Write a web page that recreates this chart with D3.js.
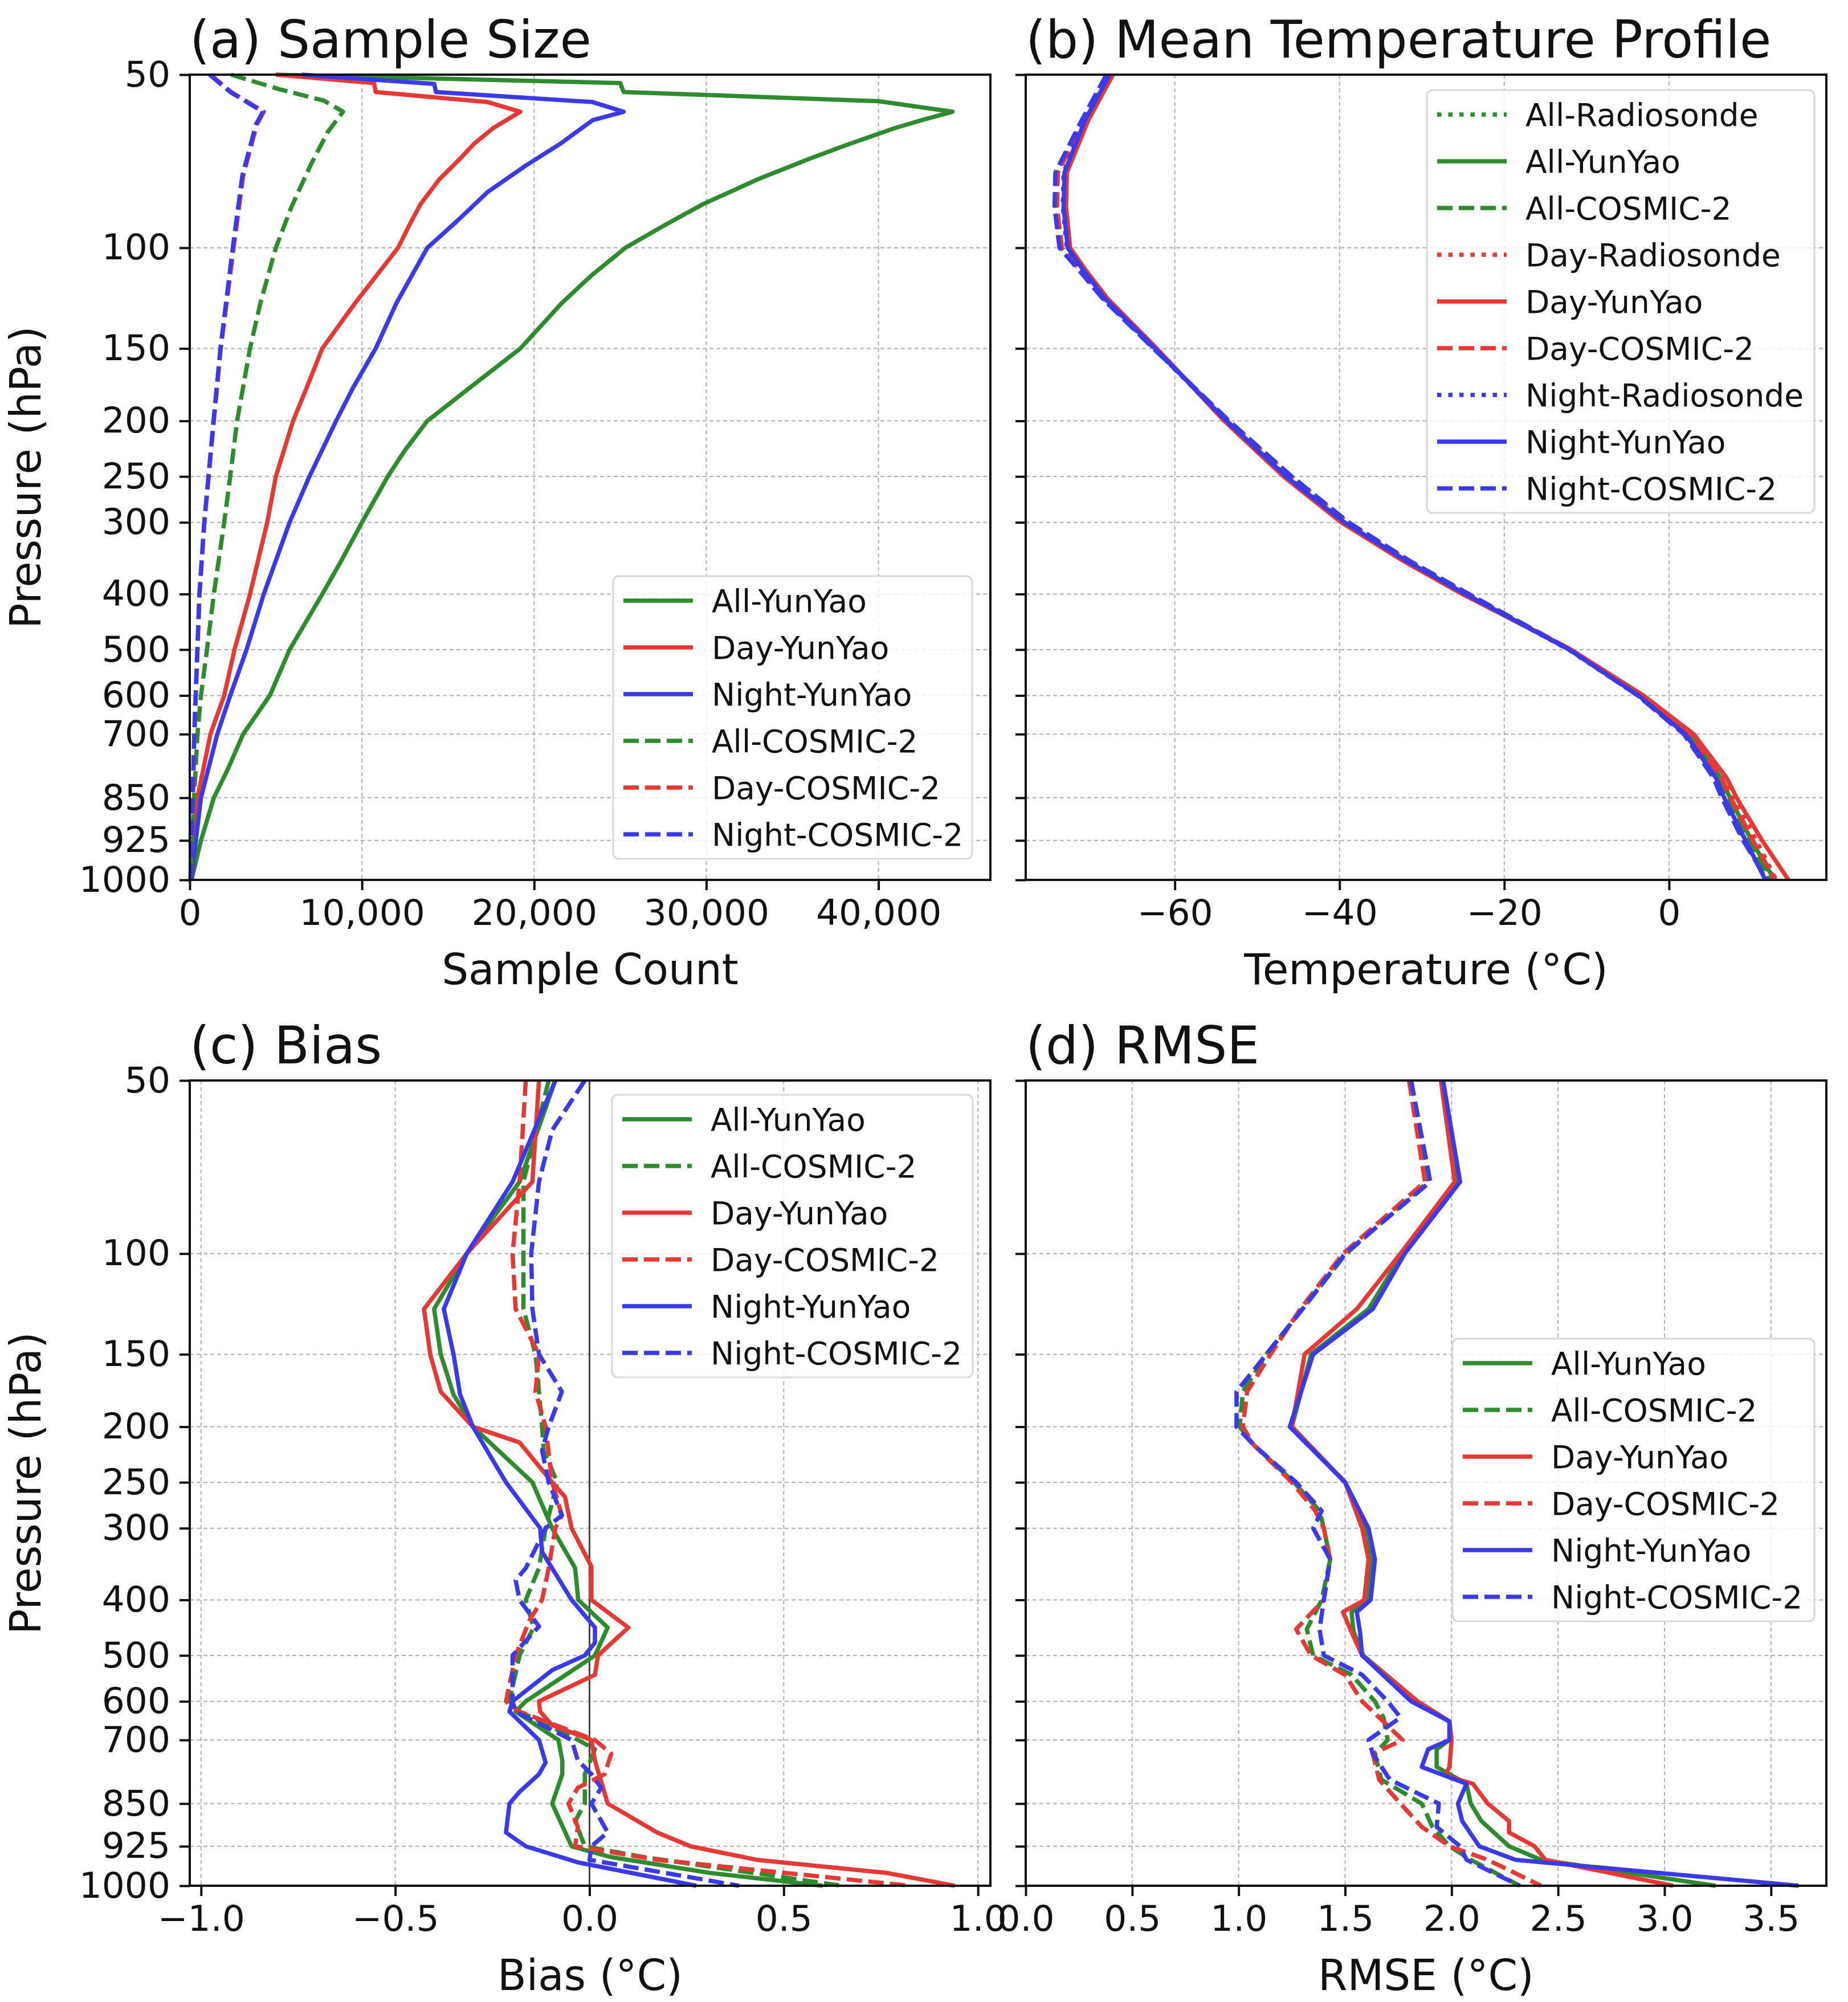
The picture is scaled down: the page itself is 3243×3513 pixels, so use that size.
<!DOCTYPE html>
<html>
<head>
<meta charset="utf-8">
<script src="https://cdn.jsdelivr.net/npm/d3@7"></script>
<style>
  body { margin: 0; background: #fff; }
  text { font-family: "DejaVu Sans", sans-serif; fill: #111; }
</style>
</head>
<body>
<svg id="fig" width="3243" height="3513"></svg>
<script>
// pressure ticks and their relative position on the (stretched) vertical axis
const pTicks = [50, 100, 150, 200, 250, 300, 400, 500, 600, 700, 850, 925, 1000];
const pFrac = [0, 0.215, 0.340, 0.430, 0.499, 0.556, 0.645, 0.714, 0.771, 0.819, 0.898, 0.951, 1];

const green = "#2e8b2e", red = "#e53935", blue = "#3a3ae8";

// (a) sample size: [pressure, count]
const sizeAllYunYao = [[50,5000],[51.7,25000],[53.6,25200],[55.6,40000],[58,44300],[60,42500],[62,40900],[66,38300],[70,36000],[76,33000],[84,29800],[92,27400],[100,25300],[112,23300],[125,21600],[150,19200],[175,16300],[200,13800],[225,12500],[250,11500],[300,10000],[350,8800],[400,7700],[500,5800],[600,4650],[700,3100],[780,2200],[850,1400],[925,650],[1000,100]];
const sizeDayYunYao = [[50,5000],[51.7,10700],[53.6,10800],[55.8,17300],[58,19200],[62,17600],[66,16500],[70,15700],[76,14500],[84,13400],[92,12700],[100,12100],[125,9600],[150,7700],[175,6800],[200,6000],[250,5000],[300,4500],[400,3500],[500,2600],[600,2000],[700,1200],[850,450],[1000,50]];
const sizeNightYunYao = [[50,6500],[51.9,14200],[53.6,14300],[55.8,23400],[58,25200],[60,23400],[66,21500],[72,19500],[80,17300],[90,15500],[100,13800],[125,12000],[150,10800],[175,9500],[200,8500],[250,6950],[300,5800],[400,4300],[500,3300],[600,2350],[700,1600],[850,650],[1000,80]];
const sizeAllCosmic = [[50,2400],[53,5200],[55.5,7800],[58,8900],[63,8000],[72,7000],[85,5900],[100,5000],[125,4100],[150,3500],[200,2750],[250,2350],[300,2000],[400,1400],[500,1000],[600,650],[700,450],[850,250],[1000,50]];
const sizeDayCosmic = [[50,1200],[53.6,2400],[58,4300],[61,3900],[75,3100],[100,2550],[150,1800],[200,1400],[300,850],[400,570],[500,450],[700,270],[850,180],[1000,50]];
const sizeNightCosmic = [[50,1150],[53.6,2350],[58,4250],[61,3850],[75,3050],[100,2500],[150,1780],[200,1380],[300,840],[400,560],[500,440],[700,260],[850,170],[1000,40]];

// (b) mean temperature profile
const tempP = [50, 60, 74, 85, 100, 110, 123, 150, 200, 250, 300, 350, 400, 500, 600, 700, 800, 850, 925, 1000];
const tempAllRaob = [-67.9,-70.8,-73.4,-73.5,-73.0,-71.0,-68.4,-62.4,-53.8,-46.5,-39.4,-32.0,-24.8,-12.1,-3.5,2.4,6.2,7.3,9.9,12.6];
const tempAllYunYao = [-67.8,-70.7,-73.3,-73.4,-72.9,-70.9,-68.3,-62.3,-53.8,-46.6,-39.6,-32.1,-24.9,-12.0,-3.4,2.5,6.3,7.4,10.0,12.8];
const tempAllCosmic = [-68.2,-71.2,-74.3,-74.4,-73.8,-71.3,-68.6,-62.5,-53.5,-45.9,-39.0,-31.6,-24.4,-12.0,-3.6,2.2,5.8,6.9,9.6,12.3];
const tempDayRaob = [-67.6,-70.6,-73.2,-73.3,-72.8,-70.8,-68.2,-62.2,-53.9,-46.7,-39.7,-32.2,-25.0,-12.0,-3.2,2.8,6.8,7.9,10.6,13.0];
const tempDayYunYao = [-67.5,-70.5,-73.1,-73.2,-72.7,-70.7,-68.1,-62.2,-54.0,-46.8,-39.8,-32.3,-25.1,-11.9,-3.1,3.0,7.0,8.2,11.3,14.5];
const tempDayCosmic = [-68.0,-71.0,-74.2,-74.3,-73.7,-71.2,-68.5,-62.4,-53.6,-46.0,-39.1,-31.7,-24.5,-11.9,-3.4,2.6,6.4,7.5,10.2,12.9];
const tempNightRaob = [-68.0,-71.0,-73.5,-73.6,-73.1,-71.1,-68.5,-62.5,-53.8,-46.4,-39.3,-31.9,-24.7,-12.2,-3.8,1.9,5.6,6.6,9.2,11.8];
const tempNightYunYao = [-67.9,-70.9,-73.4,-73.5,-73.0,-71.0,-68.4,-62.4,-53.7,-46.5,-39.4,-31.9,-24.7,-12.1,-3.7,2.0,5.7,6.7,9.3,11.7];
const tempNightCosmic = [-68.3,-71.3,-74.5,-74.6,-74.0,-71.5,-68.7,-62.6,-53.4,-45.8,-38.9,-31.5,-24.3,-12.1,-3.8,1.8,5.4,6.4,9.0,11.9];

// (c) bias: [pressure, bias]
const biasAllYunYao = [[50,-0.088],[75,-0.18],[100,-0.316],[125,-0.40],[150,-0.383],[176,-0.35],[200,-0.30],[250,-0.147],[300,-0.096],[352,-0.037],[400,-0.029],[447,0.047],[500,0.014],[600,-0.164],[625,-0.19],[700,-0.08],[745,-0.07],[777,-0.07],[850,-0.096],[925,-0.046],[945,0.056],[975,0.31],[1000,0.60]];
const biasAllCosmic = [[50,-0.105],[75,-0.17],[100,-0.17],[125,-0.17],[150,-0.139],[165,-0.133],[200,-0.122],[220,-0.118],[250,-0.083],[300,-0.113],[352,-0.13],[400,-0.164],[447,-0.144],[500,-0.18],[600,-0.206],[625,-0.18],[700,-0.029],[720,0.014],[777,-0.012],[850,-0.012],[880,-0.037],[925,-0.012],[945,0.14],[1000,0.65]];
const biasDayYunYao = [[50,-0.13],[75,-0.147],[100,-0.316],[125,-0.426],[150,-0.41],[174,-0.383],[200,-0.30],[213,-0.18],[250,-0.096],[265,-0.063],[300,-0.046],[350,0.005],[400,0.005],[447,0.10],[500,0.022],[540,0.014],[600,-0.13],[625,-0.127],[660,-0.096],[700,0.005],[745,0.014],[850,0.047],[900,0.174],[925,0.26],[950,0.43],[975,0.765],[1000,0.94]];
const biasDayCosmic = [[50,-0.164],[75,-0.18],[100,-0.198],[125,-0.19],[150,-0.13],[174,-0.139],[200,-0.113],[250,-0.096],[285,-0.071],[300,-0.088],[352,-0.105],[400,-0.122],[435,-0.155],[500,-0.19],[600,-0.215],[625,-0.18],[700,0.014],[730,0.056],[777,0.039],[810,-0.03],[850,-0.054],[890,-0.03],[925,-0.037],[950,0.174],[1000,0.825]];
const biasNightYunYao = [[50,-0.088],[75,-0.198],[100,-0.316],[125,-0.375],[150,-0.35],[176,-0.333],[200,-0.30],[250,-0.215],[300,-0.127],[330,-0.122],[400,-0.046],[447,0.014],[475,0.014],[500,-0.012],[530,-0.096],[600,-0.198],[625,-0.206],[700,-0.13],[750,-0.113],[777,-0.13],[820,-0.18],[850,-0.206],[900,-0.215],[925,-0.164],[955,-0.029],[1000,0.275]];
const biasNightCosmic = [[50,-0.012],[61,-0.096],[75,-0.13],[100,-0.15],[125,-0.147],[150,-0.13],[174,-0.071],[200,-0.105],[220,-0.122],[250,-0.105],[285,-0.071],[300,-0.113],[352,-0.164],[370,-0.19],[400,-0.18],[445,-0.13],[500,-0.198],[600,-0.198],[625,-0.19],[700,-0.046],[745,-0.03],[777,0.005],[810,0.03],[850,0.005],[900,0.047],[925,0.005],[950,0.0],[1000,0.385]];

// (d) RMSE: [pressure, rmse]
const rmseAllYunYao = [[50,1.96],[75,2.03],[100,1.77],[125,1.61],[150,1.34],[200,1.25],[250,1.50],[300,1.59],[340,1.62],[400,1.61],[420,1.53],[455,1.54],[500,1.585],[600,1.84],[650,1.99],[700,1.99],[720,1.93],[760,1.93],[800,2.07],[850,2.09],[880,2.14],[925,2.27],[950,2.42],[1000,3.24]];
const rmseAllCosmic = [[50,1.81],[75,1.89],[100,1.505],[125,1.30],[150,1.13],[174,1.02],[200,1.005],[215,1.07],[250,1.26],[280,1.38],[300,1.40],[340,1.43],[400,1.39],[450,1.32],[500,1.35],[540,1.53],[600,1.64],[640,1.68],[700,1.70],[730,1.64],[790,1.67],[850,1.86],[890,1.91],[925,1.99],[950,2.09],[1000,2.32]];
const rmseDayYunYao = [[50,1.95],[75,2.015],[100,1.76],[125,1.555],[150,1.31],[200,1.25],[250,1.50],[300,1.58],[340,1.61],[400,1.59],[420,1.49],[455,1.53],[500,1.58],[600,1.84],[650,1.99],[700,2.0],[760,1.99],[780,1.97],[800,2.10],[850,2.17],[880,2.27],[900,2.27],[925,2.39],[950,2.44],[1000,3.04]];
const rmseDayCosmic = [[50,1.80],[75,1.875],[100,1.49],[125,1.29],[150,1.15],[174,1.04],[200,1.02],[215,1.07],[250,1.25],[280,1.36],[300,1.40],[340,1.43],[400,1.40],[450,1.27],[500,1.34],[540,1.50],[600,1.58],[640,1.66],[700,1.77],[730,1.63],[790,1.66],[850,1.76],[890,1.86],[925,1.99],[950,2.17],[1000,2.42]];
const rmseNightYunYao = [[50,1.96],[75,2.04],[100,1.78],[125,1.63],[150,1.35],[200,1.24],[250,1.50],[300,1.61],[340,1.64],[400,1.62],[420,1.555],[455,1.57],[500,1.58],[600,1.81],[650,1.99],[700,1.99],[720,1.89],[760,1.86],[800,2.07],[850,2.03],[880,2.05],[925,2.13],[950,2.30],[1000,3.63]];
const rmseNightCosmic = [[50,1.81],[75,1.90],[100,1.50],[125,1.30],[150,1.13],[174,0.99],[200,0.99],[215,1.07],[250,1.27],[280,1.39],[300,1.35],[340,1.43],[400,1.40],[450,1.38],[500,1.40],[540,1.58],[600,1.70],[640,1.76],[700,1.61],[730,1.63],[790,1.71],[850,1.94],[890,1.93],[925,2.04],[950,2.07],[1000,2.32]];

const zip = (ps, vs) => ps.map((p, i) => [p, vs[i]]);

const svg = d3.select("#fig");
const W = 1405, H = 1413;
const LW = 7.5;
const dashes = { solid: null, dashed: [27, 11], dotted: [7.5, 12] };

function panel(o) {
  const g = svg.append("g").attr("transform", `translate(${o.left},${o.top})`);
  const x = d3.scaleLinear().domain(o.xDomain).range([0, W]);
  const y = d3.scaleLinear().domain(pTicks.map(Math.log10)).range(pFrac.map(f => f * H));

  // grid
  g.append("g").selectAll("line").data(o.xTicks).join("line")
    .attr("x1", d => x(d)).attr("x2", d => x(d)).attr("y1", 0).attr("y2", H)
    .attr("stroke", "#b0b0b0").attr("stroke-width", 2).attr("stroke-dasharray", "7,5");
  g.append("g").selectAll("line").data(pTicks).join("line")
    .attr("y1", d => y(Math.log10(d))).attr("y2", d => y(Math.log10(d))).attr("x1", 0).attr("x2", W)
    .attr("stroke", "#b0b0b0").attr("stroke-width", 2).attr("stroke-dasharray", "7,5");

  if (o.zeroLine) {
    g.append("line").attr("x1", x(0)).attr("x2", x(0)).attr("y1", 0).attr("y2", H)
      .attr("stroke", "#444").attr("stroke-width", 3);
  }

  const line = d3.line().x(d => x(d[1])).y(d => y(Math.log10(d[0])));
  g.append("g").selectAll("path").data(o.series).join("path")
    .attr("d", d => line(d.values))
    .attr("fill", "none").attr("stroke", d => d.color).attr("stroke-width", LW)
    .attr("stroke-linejoin", "round")
    .attr("stroke-dasharray", d => dashes[d.style]);

  g.append("rect").attr("width", W).attr("height", H)
    .attr("fill", "none").attr("stroke", "#111").attr("stroke-width", 4);

  const xAxis = g.append("g").attr("transform", `translate(0,${H})`)
    .call(d3.axisBottom(x).tickValues(o.xTicks).tickFormat(o.xFormat).tickSize(18).tickPadding(16));
  const yAxis = g.append("g")
    .call(d3.axisLeft(y).tickValues(pTicks.map(Math.log10))
      .tickFormat(o.yLabels ? (d => Math.round(Math.pow(10, d))) : "").tickSize(18).tickPadding(16));
  [xAxis, yAxis].forEach(a => {
    a.select(".domain").remove();
    a.selectAll(".tick line").attr("stroke", "#111").attr("stroke-width", 4);
    a.selectAll("text").attr("font-size", 63).attr("font-family", "DejaVu Sans").attr("fill", "#111");
  });

  g.append("text").attr("x", 0).attr("y", -30).attr("font-size", 90).text(o.title);
  g.append("text").attr("x", W / 2).attr("y", H + 183).attr("text-anchor", "middle")
    .attr("font-size", 74).text(o.xLabel);
  if (o.yLabels) {
    g.append("text").attr("transform", `translate(-262,${H / 2}) rotate(-90)`)
      .attr("text-anchor", "middle").attr("font-size", 74).text("Pressure (hPa)");
  }

  // legend
  const items = o.series;
  const lg = g.append("g").attr("transform", `translate(${o.legend[0]},${o.legend[1]})`);
  lg.append("rect").attr("width", o.legendW).attr("height", 86 + (items.length - 1) * 82)
    .attr("rx", 10).attr("fill", "white").attr("fill-opacity", 0.8)
    .attr("stroke", "#d8d8d8").attr("stroke-width", 3);
  const row = lg.selectAll("g.item").data(items).join("g").attr("class", "item")
    .attr("transform", (d, i) => `translate(18,${43 + i * 82})`);
  row.append("line").attr("x1", 0).attr("x2", 122)
    .attr("stroke", d => d.color).attr("stroke-width", LW).attr("stroke-dasharray", d => dashes[d.style]);
  row.append("text").attr("x", 155).attr("dy", "0.36em").attr("font-size", 55).text(d => d.name);
}

const tickFmt = d3.format(".1f");
const minusFmt = d => d3.format("d")(d).replace("-", "\u2212");

const sA = [
  { name: "All-YunYao", color: green, style: "solid", values: sizeAllYunYao },
  { name: "Day-YunYao", color: red, style: "solid", values: sizeDayYunYao },
  { name: "Night-YunYao", color: blue, style: "solid", values: sizeNightYunYao },
  { name: "All-COSMIC-2", color: green, style: "dashed", values: sizeAllCosmic },
  { name: "Day-COSMIC-2", color: red, style: "dashed", values: sizeDayCosmic },
  { name: "Night-COSMIC-2", color: blue, style: "dashed", values: sizeNightCosmic }
];
panel({ left: 333, top: 131, xDomain: [0, 46500], xTicks: [0, 10000, 20000, 30000, 40000],
  xFormat: d3.format(","), title: "(a) Sample Size", xLabel: "Sample Count", yLabels: true,
  series: sA, legend: [743, 880], legendW: 630 });

const sB = [
  { name: "All-Radiosonde", color: green, style: "dotted", values: zip(tempP, tempAllRaob) },
  { name: "All-YunYao", color: green, style: "solid", values: zip(tempP, tempAllYunYao) },
  { name: "All-COSMIC-2", color: green, style: "dashed", values: zip(tempP, tempAllCosmic) },
  { name: "Day-Radiosonde", color: red, style: "dotted", values: zip(tempP, tempDayRaob) },
  { name: "Day-YunYao", color: red, style: "solid", values: zip(tempP, tempDayYunYao) },
  { name: "Day-COSMIC-2", color: red, style: "dashed", values: zip(tempP, tempDayCosmic) },
  { name: "Night-Radiosonde", color: blue, style: "dotted", values: zip(tempP, tempNightRaob) },
  { name: "Night-YunYao", color: blue, style: "solid", values: zip(tempP, tempNightYunYao) },
  { name: "Night-COSMIC-2", color: blue, style: "dashed", values: zip(tempP, tempNightCosmic) }
];
panel({ left: 1800, top: 131, xDomain: [-78.1, 19.1], xTicks: [-60, -40, -20, 0],
  xFormat: minusFmt, title: "(b) Mean Temperature Profile", xLabel: "Temperature (\u00B0C)", yLabels: false,
  series: sB, legend: [704, 27], legendW: 680 });

const sC = [
  { name: "All-YunYao", color: green, style: "solid", values: biasAllYunYao },
  { name: "All-COSMIC-2", color: green, style: "dashed", values: biasAllCosmic },
  { name: "Day-YunYao", color: red, style: "solid", values: biasDayYunYao },
  { name: "Day-COSMIC-2", color: red, style: "dashed", values: biasDayCosmic },
  { name: "Night-YunYao", color: blue, style: "solid", values: biasNightYunYao },
  { name: "Night-COSMIC-2", color: blue, style: "dashed", values: biasNightCosmic }
];
panel({ left: 333, top: 1896, xDomain: [-1.029, 1.032], xTicks: [-1, -0.5, 0, 0.5, 1],
  xFormat: d => tickFmt(d).replace("-", "\u2212"), title: "(c) Bias", xLabel: "Bias (\u00B0C)", yLabels: true,
  zeroLine: true, series: sC, legend: [741, 25], legendW: 633 });

const sD = [
  { name: "All-YunYao", color: green, style: "solid", values: rmseAllYunYao },
  { name: "All-COSMIC-2", color: green, style: "dashed", values: rmseAllCosmic },
  { name: "Day-YunYao", color: red, style: "solid", values: rmseDayYunYao },
  { name: "Day-COSMIC-2", color: red, style: "dashed", values: rmseDayCosmic },
  { name: "Night-YunYao", color: blue, style: "solid", values: rmseNightYunYao },
  { name: "Night-COSMIC-2", color: blue, style: "dashed", values: rmseNightCosmic }
];
panel({ left: 1800, top: 1896, xDomain: [0, 3.76], xTicks: [0, 0.5, 1, 1.5, 2, 2.5, 3, 3.5],
  xFormat: tickFmt, title: "(d) RMSE", xLabel: "RMSE (\u00B0C)", yLabels: false,
  series: sD, legend: [749, 453], legendW: 635 });
</script>
</body>
</html>
